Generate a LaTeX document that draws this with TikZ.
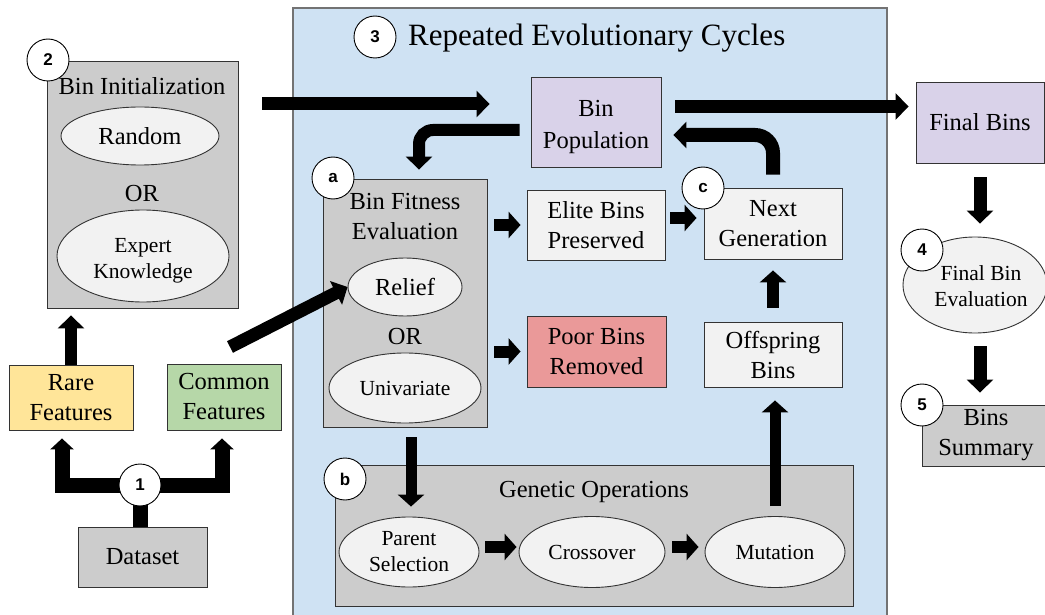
\documentclass[tikz,border=0pt]{standalone}
\usepackage{fontspec}
\setmainfont{Liberation Serif}
\newfontfamily\numfont{Liberation Sans}
\usetikzlibrary{arrows.meta,shapes.geometric}

\definecolor{cyclebg}{HTML}{CFE2F3}
\definecolor{boxgray}{HTML}{CCCCCC}
\definecolor{boxlight}{HTML}{F2F2F2}
\definecolor{binpurple}{HTML}{D9D2E9}
\definecolor{rareyellow}{HTML}{FFE599}
\definecolor{commongreen}{HTML}{B6D7A8}
\definecolor{poorred}{HTML}{EA9999}

\newcommand{\bodyfont}{\fontsize{24.5}{30}\selectfont}
\newcommand{\smallfont}{\fontsize{21.5}{26}\selectfont}
\newcommand{\titlefont}{\fontsize{31}{36}\selectfont}

\begin{document}
\begin{tikzpicture}[x=1pt, y=-1pt,
  box/.style={draw=black!80, line width=0.9pt, align=center, inner sep=0pt, font=\bodyfont},
  oval/.style={ellipse, draw=black!80, line width=0.9pt, fill=boxlight, align=center, inner sep=0pt},
  num/.style={circle, draw=black, line width=0.9pt, fill=white, minimum size=42pt, inner sep=0pt, font={\numfont\bfseries\fontsize{17}{17}\selectfont}},
  lbl/.style={inner sep=0pt, font=\bodyfont, anchor=base},
  fat/.style={line width=13pt, -{Triangle[width=26pt,length=13pt]}},
  stub/.style={line width=12pt, -{Triangle[width=26pt,length=12pt]}},
  branch/.style={line width=15pt, -{Triangle[width=23pt,length=11pt]}}]
\useasboundingbox (0,0) rectangle (1045,615);

\node[draw=black!55, line width=1.2pt, fill=cyclebg, minimum width=594pt, minimum height=660pt, inner sep=0pt] (cycles) at (590,338) {};
\node[num] (n3) at (375,37) {3};
\node[inner sep=0pt, font=\titlefont, anchor=base west] (title) at (408,46) {Repeated Evolutionary Cycles};

\node[box, fill=boxgray, minimum width=191pt, minimum height=247pt] (init) at (142.5,184.5) {};
\node[lbl] (initlbl) at (142,95) {Bin Initialization};
\node[oval, font=\bodyfont, minimum width=158pt, minimum height=58pt] (random) at (140,136) {Random};
\node[lbl] (initor) at (142,202) {OR};
\node[oval, font=\smallfont, minimum width=172pt, minimum height=92pt] (expert) at (143,256) {};
\node[inner sep=0pt, font=\smallfont, align=center] (expertlbl) at (143,261) {Expert\\Knowledge};
\node[num] (n2) at (48,60) {2};

\node[box, fill=rareyellow, minimum width=124pt, minimum height=65pt] (rare) at (71,397.5) {Rare\\Features};
\node[box, fill=commongreen, minimum width=114pt, minimum height=66pt] (common) at (224,397) {Common\\Features};
\node[box, fill=boxgray, minimum width=129pt, minimum height=60pt] (dataset) at (142.5,557) {Dataset};
\coordinate (hub) at (140,485);
\coordinate (ctail) at (230,347);

\node[box, fill=binpurple, minimum width=130pt, minimum height=90pt] (pop) at (596,122) {};
\node[inner sep=0pt, font={\fontsize{24.5}{32}\selectfont}, align=center] (poplbl) at (596,127) {Bin\\Population};
\node[box, fill=boxgray, minimum width=164pt, minimum height=248pt] (fit) at (405,303) {};
\node[lbl, anchor=center, align=center] (fitlbl) at (405,217) {Bin Fitness\\Evaluation};
\node[oval, font=\bodyfont, minimum width=114pt, minimum height=58pt] (relief) at (405,287) {Relief};
\node[lbl] (fitor) at (405,344) {OR};
\node[oval, font=\smallfont, minimum width=152pt, minimum height=70pt] (univ) at (405,388) {Univariate};
\node[num] (na) at (333,178) {a};

\node[box, fill=boxlight, minimum width=138pt, minimum height=70pt] (elite) at (596,225) {Elite Bins\\Preserved};
\node[box, fill=poorred, minimum width=139pt, minimum height=71pt] (poor) at (596.5,351.5) {Poor Bins\\Removed};
\node[box, fill=boxlight, minimum width=138pt, minimum height=71pt] (next) at (773,223.5) {Next\\Generation};
\node[num] (nc) at (703,188) {c};
\node[box, fill=boxlight, minimum width=138pt, minimum height=65pt] (off) at (773,354.5) {Offspring\\Bins};

\node[box, fill=boxgray, minimum width=518pt, minimum height=141pt] (gen) at (594,535.5) {};
\node[lbl] (genlbl) at (594,497) {Genetic Operations};
\node[oval, font=\smallfont, minimum width=140pt, minimum height=70pt] (par) at (409,552) {Parent\\Selection};
\node[oval, font=\smallfont, minimum width=146pt, minimum height=71pt] (cross) at (592,552) {Crossover};
\node[oval, font=\smallfont, minimum width=140pt, minimum height=71pt] (mut) at (775,552) {Mutation};
\node[num] (nb) at (345,479) {b};

\node[box, fill=binpurple, minimum width=128pt, minimum height=81pt] (final) at (980,122.5) {Final Bins};
\node[oval, minimum width=144pt, minimum height=96pt] (eval) at (975,285) {};
\node[inner sep=0pt, font=\smallfont, align=center] (evallbl) at (981,286) {Final Bin\\Evaluation};
\node[num] (n4) at (922,250) {4};
\node[box, fill=boxgray, minimum width=128pt, minimum height=61pt] (summary) at (986,435.5) {Bins\\Summary};
\node[num] (n5) at (922,405) {5};

\draw[line width=15pt] (dataset.north -| hub) -- (hub);
\draw[branch, shorten >=8pt] (hub) -| ([xshift=-9pt]rare.south);
\draw[branch, shorten >=8pt] (hub) -| ([xshift=-2pt]common.south);
\node[num] (n1) at (hub) {1};
\draw[fat, line width=12pt, shorten >=7pt] (rare.north) -- (rare.north |- init.south);
\draw[fat] (ctail) -- (relief.west);

\coordinate (popin) at ([yshift=18pt]pop.west);
\draw[fat, shorten <=24pt, shorten >=41pt] (init.east |- popin) -- (popin);
\coordinate (finin) at ([yshift=16pt]final.west);
\draw[fat, shorten <=14pt, shorten >=7pt] (pop.east |- finin) -- (finin);
\draw[fat, line width=12pt, rounded corners=14pt, shorten <=11pt, shorten >=9pt] ([yshift=-8pt]pop.west) -| ([xshift=14pt]fit.north);
\draw[fat, line width=14pt, rounded corners=18pt, shorten <=13pt, shorten >=12pt] (next.north) |- ([yshift=-13pt]pop.east);

\draw[stub, shorten <=7pt, shorten >=6pt] (fit.east |- elite) -- (elite.west);
\draw[stub, shorten <=7pt, shorten >=6pt] (fit.east |- poor) -- (poor.west);
\draw[stub, shorten <=5pt, shorten >=7pt] ([yshift=7pt]elite.east) -- ([yshift=7pt]elite.east -| next.west);
\draw[stub, shorten <=14pt, shorten >=11pt] (off.north) -- (next.south);
\draw[stub, line width=11pt, shorten <=10pt, shorten >=13pt] (mut.north) -- (mut.north |- off.south);
\draw[stub, line width=11pt, shorten <=10pt, shorten >=10pt] ([xshift=6pt]fit.south) -- ([xshift=6pt]fit.south |- par.north);
\draw[stub, shorten <=6pt, shorten >=2pt] ([yshift=5pt]par.east) -- ([yshift=5pt]par.east -| cross.west);
\draw[stub, shorten <=7pt, shorten >=6pt] ([yshift=5pt]cross.east) -- ([yshift=5pt]cross.east -| mut.west);

\draw[fat, shorten <=14pt, shorten >=13pt] (final.south) -- (final.south |- eval.north);
\draw[fat, shorten <=13pt, shorten >=12pt] (final.south |- eval.south) -- (final.south |- summary.north);
\end{tikzpicture}
\end{document}
